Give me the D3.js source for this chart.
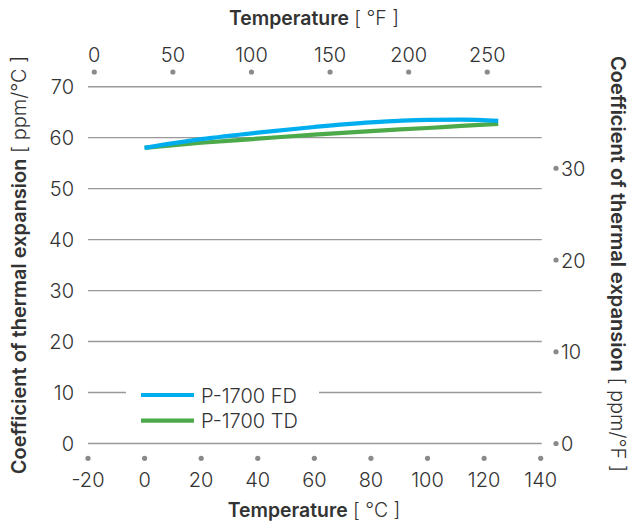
<!DOCTYPE html>
<html>
<head>
<meta charset="utf-8">
<script src="https://cdn.jsdelivr.net/npm/d3@7"></script>
<style>
  html, body { margin: 0; padding: 0; background: #fff; }
  svg text { font-family: Inter, "Liberation Sans", Arial, sans-serif; fill: #333; }
</style>
</head>
<body>
<svg id="chart" width="630" height="526"></svg>
<script>
// Coefficient of thermal expansion versus temperature, P-1700 film in two directions
const seriesNames = ["P-1700 FD", "P-1700 TD"];
const seriesColors = ["#00aeef", "#4caa4a"];
const tempC = [0, 20, 40, 60, 80, 100, 112, 125];
const cteFD = [58.0, 59.7, 61.0, 62.1, 63.0, 63.5, 63.55, 63.3];
const cteTD = [58.0, 59.0, 59.8, 60.6, 61.3, 61.9, 62.3, 62.7];

const ticksC = [-20, 0, 20, 40, 60, 80, 100, 120, 140];
const ticksF = [0, 50, 100, 150, 200, 250];
const ticksCte = [0, 10, 20, 30, 40, 50, 60, 70];
const ticksCteF = [0, 10, 20, 30];

const svg = d3.select("#chart");
const fs = 20;

const x = d3.scaleLinear().domain([-20, 140]).range([88, 540.7]);
const y = d3.scaleLinear().domain([0, 70]).range([443.5, 86.7]);
const fToC = f => (f - 32) * 5 / 9;
const ppmF = v => v * 1.8; // ppm/°F → ppm/°C

// horizontal grid
svg.append("g").selectAll("line").data(ticksCte).join("line")
  .attr("x1", x(-20)).attr("x2", 541.7)
  .attr("y1", d => y(d)).attr("y2", d => y(d))
  .attr("stroke", "#999").attr("stroke-width", 1.4);

// left axis labels
svg.append("g").selectAll("text").data(ticksCte).join("text")
  .attr("x", 74).attr("y", d => y(d)).attr("dy", "0.38em")
  .attr("text-anchor", "end").attr("font-size", fs).attr("font-weight", 300)
  .text(d => d);

// bottom axis: dots + labels
const gB = svg.append("g");
gB.selectAll("circle").data(ticksC).join("circle")
  .attr("cx", d => x(d)).attr("cy", 458.3).attr("r", 2.6).attr("fill", "#8a8a8a");
gB.selectAll("text").data(ticksC).join("text")
  .attr("x", d => x(d)).attr("y", 487)
  .attr("text-anchor", "middle").attr("font-size", fs).attr("font-weight", 300)
  .text(d => d);

// top axis (°F): dots + labels
const gT = svg.append("g");
gT.selectAll("circle").data(ticksF).join("circle")
  .attr("cx", d => x(fToC(d))).attr("cy", 72).attr("r", 2.6).attr("fill", "#8a8a8a");
gT.selectAll("text").data(ticksF).join("text")
  .attr("x", d => x(fToC(d))).attr("y", 61.7)
  .attr("text-anchor", "middle").attr("font-size", fs).attr("font-weight", 300)
  .text(d => d);

// right axis (ppm/°F): dots + labels
const gR = svg.append("g");
gR.selectAll("circle").data(ticksCteF).join("circle")
  .attr("cx", 556).attr("cy", d => y(ppmF(d))).attr("r", 2.6).attr("fill", "#8a8a8a");
gR.selectAll("text").data(ticksCteF).join("text")
  .attr("x", 561).attr("y", d => y(ppmF(d))).attr("dy", "0.38em")
  .attr("font-size", fs).attr("font-weight", 300)
  .text(d => d);

// axis titles
function title(g, bold, rest, size) {
  const t = g.append("text").attr("font-size", size).attr("text-anchor", "middle");
  t.append("tspan").attr("font-weight", 600).text(bold);
  t.append("tspan").attr("font-weight", 300).text(rest);
  return t;
}
title(svg, "Temperature", " [ °F ]", 19.4).attr("x", 314).attr("y", 25);
title(svg, "Temperature", " [ °C ]", 19.4).attr("x", 314).attr("y", 517);
title(svg, "Coefficient of thermal expansion", " [ ppm/°C ]", 20)
  .attr("transform", "translate(26,265) rotate(-90)");
title(svg, "Coefficient of thermal expansion", " [ ppm/°F ]", 20)
  .attr("transform", "translate(611,264) rotate(90)");

// curves
const line = d3.line().x(d => x(d[0])).y(d => y(d[1])).curve(d3.curveMonotoneX);
const series = [cteFD, cteTD];
svg.append("g").selectAll("path").data([1, 0]).join("path")
  .attr("d", i => line(tempC.map((t, k) => [t, series[i][k]])))
  .attr("fill", "none").attr("stroke", i => seriesColors[i])
  .attr("stroke-width", 4.2).attr("stroke-linecap", "butt");

// legend
const lg = svg.append("g");
lg.append("rect").attr("x", 126).attr("y", 380).attr("width", 193).attr("height", 52).attr("fill", "#fff");
const items = lg.selectAll("g").data(seriesNames).join("g")
  .attr("transform", (d, i) => `translate(141,${395 + i * 25.7})`);
items.append("line").attr("x1", 0).attr("x2", 53)
  .attr("stroke", (d, i) => seriesColors[i]).attr("stroke-width", 4.2);
items.append("text").attr("x", 60).attr("dy", "0.38em")
  .attr("font-size", fs).attr("font-weight", 300).text(d => d);
</script>
</body>
</html>
